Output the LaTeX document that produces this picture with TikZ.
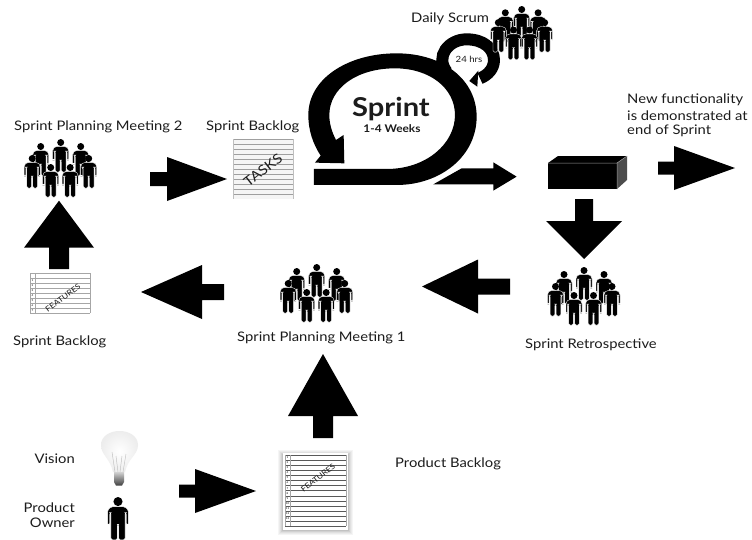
\documentclass[tikz,border=0pt]{standalone}
\usepackage{fontspec}
\setmainfont{Lato}[FakeStretch=1.12]
\usetikzlibrary{calc}
\definecolor{inkc}{HTML}{1C1C1C}
\newcommand\blockarrow[5]{%
  \coordinate (bb) at ($(#2)!#5pt!(#1)$);
  \fill[black] ($(#1)!#3pt!90:(#2)$) -- ($(bb)!#3pt!90:(#2)$) -- ($(bb)!#4pt!90:(#2)$) -- (#2)
    -- ($(bb)!#4pt!-90:(#2)$) -- ($(bb)!#3pt!-90:(#2)$) -- ($(#1)!#3pt!-90:(#2)$) -- cycle;}
\tikzset{
  label text/.style={font=\fontsize{13.2}{15}\selectfont, text=inkc, inner sep=0pt},
  doc title/.style={font=\fontsize{#1}{#1}\selectfont, text=inkc, inner sep=0pt},
  tiny num/.style={font=\fontsize{2.6}{3}\selectfont, text=black, inner sep=0pt},
  person/.pic={
    \fill[black] (0,3.5) circle (3.5);
    \fill[black,draw=white,line width=.35pt,rounded corners=1.6pt]
      (-5,7.4) -- (5,7.4) -- (8,10) -- (8,21.5) -- (6.4,21.5) -- (6.4,12) -- (5.4,12) -- (5.4,33)
      -- (.6,33) -- (.6,21) -- (-.6,21) -- (-.6,33) -- (-5.4,33) -- (-5.4,12) -- (-6.4,12)
      -- (-6.4,21.5) -- (-8,21.5) -- (-8,10) -- cycle;
  },
  crowd/.pic={
    \pic at (0,0) {person};
    \pic at (-20,4) {person};
    \pic at (20,4) {person};
    \pic at (-28.5,16) {person};
    \pic at (28,16) {person};
    \pic at (-10,25) {person};
    \pic at (9.5,25) {person};
  }
}
\begin{document}
\begin{tikzpicture}[x=1pt,y=-1pt]
\useasboundingbox (0,0) rectangle (752,539);
\fill[white] (0,0) rectangle (752,539);

% Sprint loops (coordinates are in a 3x frame shifted to x=200)
\begin{scope}[shift={(200,0)},x=.3333pt,y=-.3333pt]
  \fill[black] (342,507) -- (560,507) .. controls (680,507) and (765,430) .. (765,345)
    .. controls (765,265) and (690,205) .. (585,205)
    .. controls (470,205) and (388,265) .. (388,345)
    .. controls (388,370) and (395,395) .. (408,420)
    -- (431,405) -- (433,490) -- (345,488) -- (362,467)
    .. controls (338,430) and (325,390) .. (325,345)
    .. controls (325,235) and (445,160) .. (590,160)
    .. controls (730,160) and (830,240) .. (830,350)
    .. controls (830,470) and (720,555) .. (590,555)
    -- (342,555) -- cycle;
  \draw[black,line width=12pt] (740,215) .. controls (705,170) and (745,118) .. (800,118)
    .. controls (850,118) and (882,145) .. (882,180)
    .. controls (882,205) and (865,225) .. (840,235);
  \fill[black] (808,243) -- (835,212) -- (832,260) -- cycle;
  \fill[black] (700,553) -- (785,505) -- (880,505) -- (880,487) -- (950,530) -- (880,572) -- (880,553) -- cycle;
\end{scope}

% Task sheet
\fill[gray!8] (233,139) rectangle (293,199);
\foreach \i in {0,...,11} \draw[gray!75,line width=.7pt] (233,139+\i*5) -- (293,139+\i*5);
\draw[gray!50,line width=.5pt] (233,139) -- (233,199) (293,139) -- (293,199);
\node[doc title=13.5,rotate=38] (tasks) at (263,170) {TASKS};

% Sprint feature sheet
\foreach \i in {0,...,8} \draw[gray!70,line width=.6pt] (30,273+\i*5) -- (90,273+\i*5);
\draw[gray!70,line width=.6pt] (30,273) -- (30,313) (90,273) -- (90,313) (35,273) -- (35,313);
\foreach \i in {1,...,7} \node[tiny num] (sn\i) at (32.5,275.5+\i*5) {\i};
\node[doc title=7.6,rotate=36] (sfeat) at (63,298) {FEATURES};

% Product feature sheet
\foreach \o/\g in {5/4,4/8,3/12,2/18,1/24} \fill[black!\g] (283-\o,453-\o+2) rectangle (348+\o,530+\o);
\fill[white] (283,453) rectangle (348,530);
\foreach \i in {0,...,14} \draw[gray!70!black,line width=.55pt] (285,455+\i*5.1) -- (346,455+\i*5.1);
\draw[gray!70,line width=.5pt] (285,455) -- (285,526.4) (346,455) -- (346,526.4) (290,455) -- (290,526.4);
\foreach \i in {1,...,13} \node[tiny num] (pn\i) at (287.5,457.5+\i*5.1-5.1) {\i};
\node[doc title=7.6,rotate=38] (pfeat) at (318,478) {FEATURES};

% Bulb
\shade[inner color=white,outer color=gray!14] (113,472) .. controls (110,458) and (101,455) .. (101,445)
  .. controls (101,436) and (110,431) .. (119.5,431) .. controls (129,431) and (138,436) .. (138,445)
  .. controls (138,455) and (128,458) .. (125,472) -- cycle;
\draw[gray!55,line width=.4pt] (115,472) -- (112,452) (123,472) -- (126,454) (118,472) -- (116,456) (120,472) -- (122,456);
\shade[top color=gray!35,bottom color=black!75] (114,472) -- (124,472) -- (124,482) -- (122,485.5) -- (116,485.5) -- (114,482) -- cycle;

% Product owner
\pic[scale=1.3] (owner) at (118,497) {person};

% Black box
\fill[black] (548,163) rectangle (617,189);
\fill[black] (548,163) -- (558,156) -- (627,156) -- (617,163) -- cycle;
\fill[black!70] (617,163) -- (627,156) -- (627,180) -- (617,189) -- cycle;
\draw[gray!80,line width=.5pt] (548,163) -- (617,163) -- (627,156) (617,163) -- (617,189);

% Crowds
\pic (spm2) at (60.7,139) {crowd};
\pic (spm1) at (316.7,264) {crowd};
\pic (retro) at (584,267) {crowd};
\pic[scale=.82] (daily) at (521.7,6) {crowd};

% Block arrows
\coordinate (a1t) at (150,179); \coordinate (a1h) at (227,179);
\coordinate (a2t) at (59,269); \coordinate (a2h) at (59,200.7);
\coordinate (a3t) at (224,292); \coordinate (a3h) at (141,292);
\coordinate (a4t) at (510,286.5); \coordinate (a4h) at (422,286.5);
\coordinate (a5t) at (584,199); \coordinate (a5h) at (584,259);
\coordinate (a6t) at (658,168); \coordinate (a6h) at (735,168);
\coordinate (a7t) at (323,438); \coordinate (a7h) at (323,354);
\coordinate (a8t) at (179,491); \coordinate (a8h) at (256,491);
\blockarrow{a1t}{a1h}{7}{22}{60}
\blockarrow{a2t}{a2h}{10}{35}{47}
\blockarrow{a3t}{a3h}{8}{27}{61}
\blockarrow{a4t}{a4h}{8}{27}{56}
\blockarrow{a5t}{a5h}{9}{38}{38}
\blockarrow{a6t}{a6h}{6.5}{22}{61}
\blockarrow{a7t}{a7h}{10}{35}{62}
\blockarrow{a8t}{a8h}{6.5}{22}{61}

% Labels
\node[label text,anchor=west] (ldaily) at (411,19) {Daily Scrum};
\node[font=\fontsize{8.6}{10}\selectfont,text=inkc,inner sep=0pt] (l24) at (469,59) {24 hrs};
\node[font=\bfseries\fontsize{26}{28}\selectfont,text=inkc,inner sep=0pt] (lsprint) at (391,109) {Sprint};
\node[font=\bfseries\fontsize{10.6}{12}\selectfont,text=inkc,inner sep=0pt] (lweeks) at (392,129) {1-4 Weeks};
\node[label text,anchor=west] (lback1) at (206,127) {Sprint Backlog};
\node[label text,anchor=west] (lspm2) at (14,127) {Sprint Planning Meeting 2};
\node[label text,anchor=west] (lnew1) at (627,100) {New functionality};
\node[label text,anchor=west] (lnew2) at (627,116) {is demonstrated at};
\node[label text,anchor=west] (lnew3) at (627,131) {end of Sprint};
\node[label text,anchor=west] (lspm1) at (237,338) {Sprint Planning Meeting 1};
\node[label text,anchor=west] (lretro) at (525,345) {Sprint Retrospective};
\node[label text,anchor=west] (lback2) at (13,342) {Sprint Backlog};
\node[label text,anchor=west] (lprod) at (395,464) {Product Backlog};
\node[label text,anchor=east] (lvision) at (75,459) {Vision};
\node[label text,anchor=east] (lproduct) at (75,508) {Product};
\node[label text,anchor=east] (lowner) at (75,523) {Owner};
\end{tikzpicture}
\end{document}
